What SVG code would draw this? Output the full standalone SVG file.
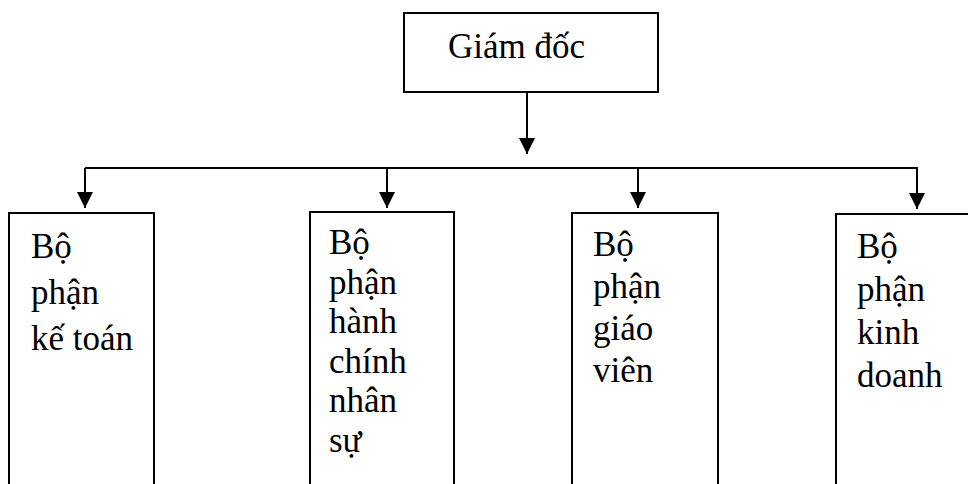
<svg xmlns="http://www.w3.org/2000/svg" width="968" height="484" viewBox="0 0 968 484">
<style>
.box{fill:#fff;stroke:#000;stroke-width:2}
.t{font-family:"Liberation Serif","Times New Roman",serif;font-size:35px;fill:#000}
.ln{stroke:#000;stroke-width:2;fill:none}
</style>
<defs>
<marker id="ah" markerWidth="16" markerHeight="16" viewBox="0 0 16 16" refX="16" refY="8" orient="auto" markerUnits="userSpaceOnUse">
<path d="M0,0 L16,8 L0,16 Z" fill="#000"/>
</marker>
</defs>
<rect width="968" height="484" fill="#fff"/>
<g id="connectors">
<line class="ln" x1="527" y1="93" x2="527" y2="154" marker-end="url(#ah)"/>
<line class="ln" x1="85" y1="168" x2="918" y2="168"/>
<line class="ln" x1="85" y1="168" x2="85" y2="208" marker-end="url(#ah)"/>
<line class="ln" x1="387" y1="168" x2="387" y2="208" marker-end="url(#ah)"/>
<line class="ln" x1="638" y1="168" x2="638" y2="208" marker-end="url(#ah)"/>
<line class="ln" x1="917" y1="168" x2="917" y2="209" marker-end="url(#ah)"/>
</g>
<g id="giam-doc">
<rect class="box" x="404" y="13" width="254" height="79"/>
<text class="t" x="448" y="58">Giám đốc</text>
</g>
<g id="ke-toan">
<rect class="box" x="9" y="213" width="145" height="290"/>
<text class="t" x="31" y="258">Bộ</text>
<text class="t" x="31" y="304">phận</text>
<text class="t" x="31" y="350">kế toán</text>
</g>
<g id="hanh-chinh">
<rect class="box" x="310" y="212" width="144" height="290"/>
<text class="t" x="329" y="254">Bộ</text>
<text class="t" x="329" y="294">phận</text>
<text class="t" x="329" y="333">hành</text>
<text class="t" x="329" y="373">chính</text>
<text class="t" x="329" y="412">nhân</text>
<text class="t" x="329" y="452">sự</text>
</g>
<g id="giao-vien">
<rect class="box" x="572" y="213" width="146" height="290"/>
<text class="t" x="593" y="256">Bộ</text>
<text class="t" x="593" y="298">phận</text>
<text class="t" x="593" y="340">giáo</text>
<text class="t" x="593" y="382">viên</text>
</g>
<g id="kinh-doanh">
<rect class="box" x="836" y="214" width="146" height="290"/>
<text class="t" x="857" y="258">Bộ</text>
<text class="t" x="857" y="301">phận</text>
<text class="t" x="857" y="344">kinh</text>
<text class="t" x="857" y="387">doanh</text>
</g>
</svg>
